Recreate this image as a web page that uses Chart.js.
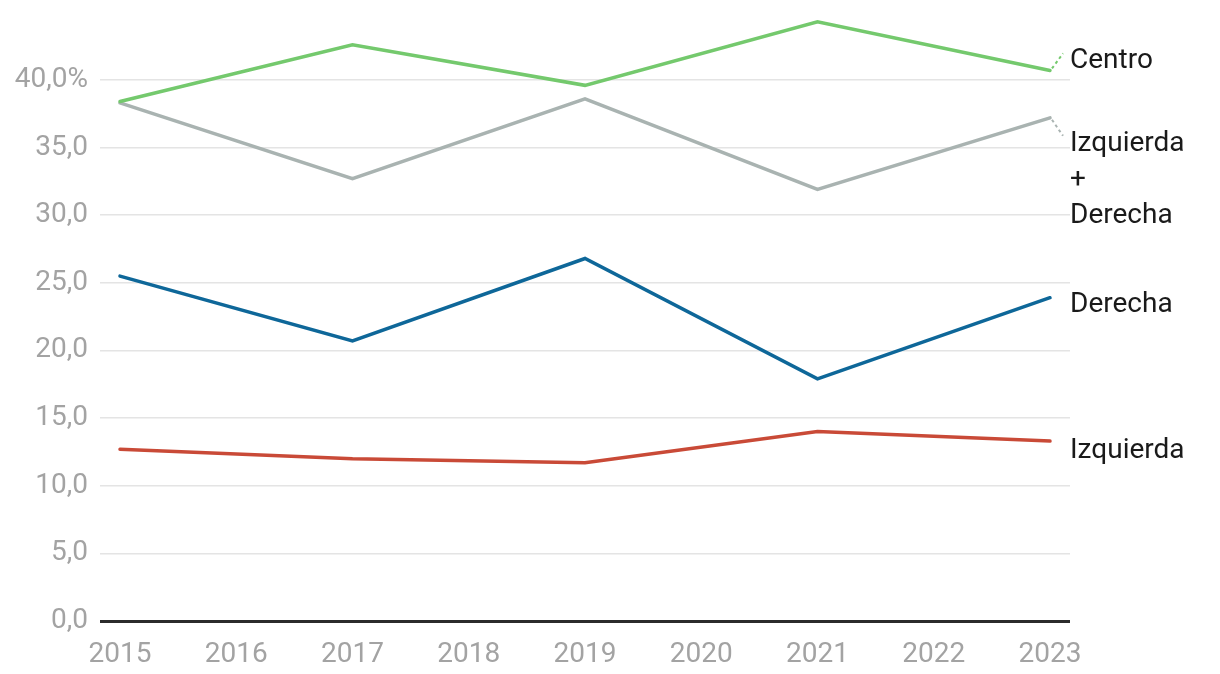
<!DOCTYPE html>
<html>
<head>
<meta charset="utf-8">
<script src="https://cdn.jsdelivr.net/npm/chart.js@4"></script>
<style>
  html, body { margin: 0; padding: 0; background: #fff; }
  #wrap { width: 1220px; height: 674px; }
</style>
</head>
<body>
<div id="wrap"><canvas id="chart"></canvas></div>
<script>
const years = [2015, 2017, 2019, 2021, 2023];
const tickYears = [2015, 2016, 2017, 2018, 2019, 2020, 2021, 2022, 2023];
const yTicks = [0, 5, 10, 15, 20, 25, 30, 35, 40];

const centro = [38.4, 42.6, 39.6, 44.3, 40.7];
const izqDer = [38.3, 32.7, 38.6, 31.9, 37.2];
const derecha = [25.5, 20.7, 26.8, 17.9, 23.9];
const izquierda = [12.7, 12.0, 11.7, 14.0, 13.3];

const labelLines = [["Centro"], ["Izquierda", "+", "Derecha"], ["Derecha"], ["Izquierda"]];

const FONT = "Roboto, 'Liberation Sans', sans-serif";

function pts(vals) {
    return vals.map((v, i) => ({ x: years[i], y: v }));
}

// end labels, nudged so they don't collide
const labelPlugin = {
    id: "endLabels",
    afterDatasetsDraw(chart) {
        const ctx = chart.ctx;
        const nudge = [-9, 26, 7, 10];
        ctx.save();
        ctx.font = "28px " + FONT;
        ctx.textAlign = "left";
        ctx.textBaseline = "middle";
        chart.data.datasets.forEach((ds, i) => {
            const meta = chart.getDatasetMeta(i);
            const last = meta.data[meta.data.length - 1];
            const x = last.x, y = last.y;
            const ty = y + nudge[i];
            if (i < 2) {
                // dotted leader from line end to its label
                ctx.beginPath();
                ctx.setLineDash([3, 3]);
                ctx.lineWidth = 2;
                ctx.strokeStyle = ds.borderColor;
                ctx.moveTo(x + 2, y + Math.sign(nudge[i]) * 2);
                ctx.lineTo(x + 13, ty - 8);
                ctx.stroke();
                ctx.setLineDash([]);
            }
            ctx.fillStyle = "#1a1a1a";
            labelLines[i].forEach((t, k) => {
                ctx.fillText(t, 1070, ty + k * 36);
            });
        });
        ctx.restore();
    }
};

new Chart(document.getElementById("chart").getContext("2d"), {
    type: "line",
    data: {
        datasets: [
            { label: "Centro", data: pts(centro), borderColor: "#74c96d" },
            { label: "Izquierda + Derecha", data: pts(izqDer), borderColor: "#a9b3b1" },
            { label: "Derecha", data: pts(derecha), borderColor: "#0e6799" },
            { label: "Izquierda", data: pts(izquierda), borderColor: "#c94a37" }
        ]
    },
    options: {
        responsive: true,
        maintainAspectRatio: false,
        animation: false,
        events: [],
        layout: { padding: { top: 15, right: 150, left: 0, bottom: 0 } },
        elements: {
            line: { borderWidth: 3.5, tension: 0, borderCapStyle: "round" },
            point: { radius: 0 }
        },
        plugins: { legend: { display: false }, tooltip: { enabled: false } },
        scales: {
            x: {
                type: "linear",
                min: 2015 - 20 / 116.25,
                max: 2023 + 20 / 116.25,
                afterBuildTicks(scale) { scale.ticks = tickYears.map(v => ({ value: v })); },
                afterFit(scale) { scale.height = 53; },
                grid: { display: false },
                border: { display: false },
                ticks: {
                    color: "#a3a3a3",
                    font: { family: FONT, size: 28 },
                    padding: 9,
                    maxRotation: 0,
                    callback: v => String(v)
                }
            },
            y: {
                min: 0,
                max: 44.8,
                afterBuildTicks(scale) { scale.ticks = yTicks.map(v => ({ value: v })); },
                afterFit(scale) {
                    scale.width = 100;
                    scale.paddingTop = 0;
                    scale.paddingBottom = 0;
                },
                border: { display: false },
                grid: {
                    drawTicks: false,
                    color: c => c.tick.value === 0 ? "#2b2b2b" : "#e4e4e4",
                    lineWidth: c => c.tick.value === 0 ? 3 : 1.5
                },
                ticks: {
                    color: "#a3a3a3",
                    font: { family: FONT, size: 28 },
                    padding: 12,
                    callback: v => v.toFixed(1).replace(".", ",") + (v === 40 ? "%" : "")
                }
            }
        }
    },
    plugins: [labelPlugin]
});
</script>
</body>
</html>
